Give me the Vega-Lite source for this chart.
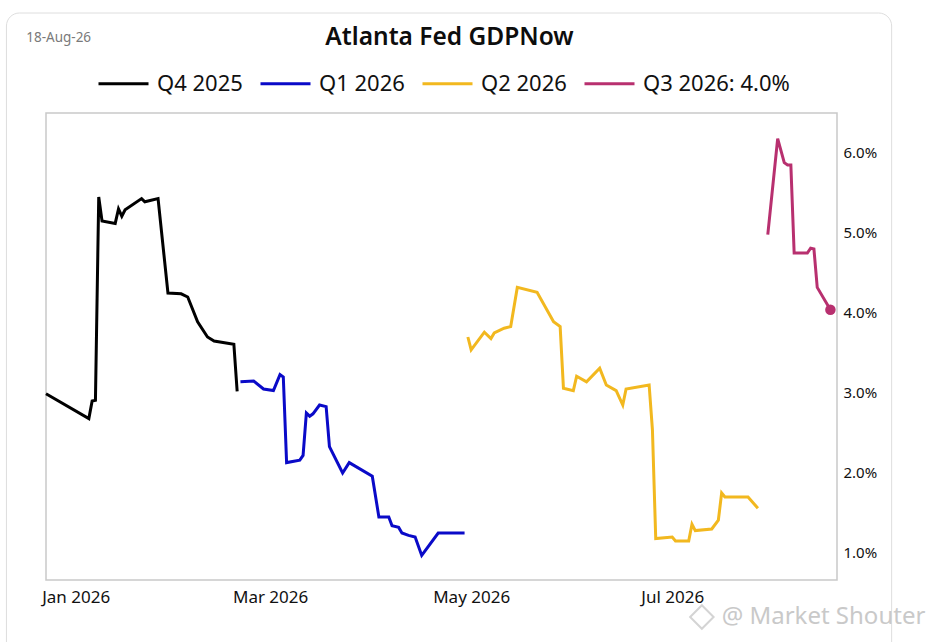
{
  "$schema": "https://vega.github.io/schema/vega-lite/v6.json",
  "width": 791,
  "height": 467,
  "autosize": "none",
  "padding": {"left": 46, "top": 113, "right": 94, "bottom": 62},
  "background": "white",
  "title": {
    "text": "Atlanta Fed GDPNow",
    "anchor": "middle",
    "frame": "group",
    "dx": 8,
    "offset": -38,
    "font": "Noto Sans",
    "fontSize": 24.5,
    "fontWeight": 600,
    "color": "#0d0d0d"
  },
  "datasets": {
    "series": [
      {"date": "2025-12-23", "gdp": 2.99, "quarter": "Q4 2025"},
      {"date": "2026-01-05", "gdp": 2.68, "quarter": "Q4 2025"},
      {"date": "2026-01-06", "gdp": 2.90, "quarter": "Q4 2025"},
      {"date": "2026-01-07", "gdp": 2.91, "quarter": "Q4 2025"},
      {"date": "2026-01-08", "gdp": 5.45, "quarter": "Q4 2025"},
      {"date": "2026-01-09", "gdp": 5.15, "quarter": "Q4 2025"},
      {"date": "2026-01-13", "gdp": 5.12, "quarter": "Q4 2025"},
      {"date": "2026-01-14", "gdp": 5.30, "quarter": "Q4 2025"},
      {"date": "2026-01-15", "gdp": 5.21, "quarter": "Q4 2025"},
      {"date": "2026-01-16", "gdp": 5.29, "quarter": "Q4 2025"},
      {"date": "2026-01-21", "gdp": 5.43, "quarter": "Q4 2025"},
      {"date": "2026-01-22", "gdp": 5.39, "quarter": "Q4 2025"},
      {"date": "2026-01-26", "gdp": 5.43, "quarter": "Q4 2025"},
      {"date": "2026-01-29", "gdp": 4.25, "quarter": "Q4 2025"},
      {"date": "2026-02-02", "gdp": 4.24, "quarter": "Q4 2025"},
      {"date": "2026-02-04", "gdp": 4.20, "quarter": "Q4 2025"},
      {"date": "2026-02-07", "gdp": 3.89, "quarter": "Q4 2025"},
      {"date": "2026-02-10", "gdp": 3.70, "quarter": "Q4 2025"},
      {"date": "2026-02-12", "gdp": 3.65, "quarter": "Q4 2025"},
      {"date": "2026-02-18", "gdp": 3.61, "quarter": "Q4 2025"},
      {"date": "2026-02-19", "gdp": 3.02, "quarter": "Q4 2025"},
      {"date": "2026-02-20", "gdp": 3.14, "quarter": "Q1 2026"},
      {"date": "2026-02-24", "gdp": 3.15, "quarter": "Q1 2026"},
      {"date": "2026-02-27", "gdp": 3.05, "quarter": "Q1 2026"},
      {"date": "2026-03-02", "gdp": 3.03, "quarter": "Q1 2026"},
      {"date": "2026-03-04", "gdp": 3.23, "quarter": "Q1 2026"},
      {"date": "2026-03-05", "gdp": 3.20, "quarter": "Q1 2026"},
      {"date": "2026-03-06", "gdp": 2.13, "quarter": "Q1 2026"},
      {"date": "2026-03-10", "gdp": 2.16, "quarter": "Q1 2026"},
      {"date": "2026-03-11", "gdp": 2.22, "quarter": "Q1 2026"},
      {"date": "2026-03-12", "gdp": 2.75, "quarter": "Q1 2026"},
      {"date": "2026-03-13", "gdp": 2.71, "quarter": "Q1 2026"},
      {"date": "2026-03-14", "gdp": 2.74, "quarter": "Q1 2026"},
      {"date": "2026-03-16", "gdp": 2.85, "quarter": "Q1 2026"},
      {"date": "2026-03-18", "gdp": 2.83, "quarter": "Q1 2026"},
      {"date": "2026-03-19", "gdp": 2.33, "quarter": "Q1 2026"},
      {"date": "2026-03-23", "gdp": 2.00, "quarter": "Q1 2026"},
      {"date": "2026-03-25", "gdp": 2.13, "quarter": "Q1 2026"},
      {"date": "2026-04-01", "gdp": 1.96, "quarter": "Q1 2026"},
      {"date": "2026-04-03", "gdp": 1.45, "quarter": "Q1 2026"},
      {"date": "2026-04-06", "gdp": 1.45, "quarter": "Q1 2026"},
      {"date": "2026-04-07", "gdp": 1.34, "quarter": "Q1 2026"},
      {"date": "2026-04-09", "gdp": 1.32, "quarter": "Q1 2026"},
      {"date": "2026-04-10", "gdp": 1.25, "quarter": "Q1 2026"},
      {"date": "2026-04-12", "gdp": 1.22, "quarter": "Q1 2026"},
      {"date": "2026-04-14", "gdp": 1.20, "quarter": "Q1 2026"},
      {"date": "2026-04-16", "gdp": 0.97, "quarter": "Q1 2026"},
      {"date": "2026-04-21", "gdp": 1.25, "quarter": "Q1 2026"},
      {"date": "2026-04-29", "gdp": 1.25, "quarter": "Q1 2026"},
      {"date": "2026-04-30", "gdp": 3.70, "quarter": "Q2 2026"},
      {"date": "2026-05-01", "gdp": 3.54, "quarter": "Q2 2026"},
      {"date": "2026-05-05", "gdp": 3.76, "quarter": "Q2 2026"},
      {"date": "2026-05-07", "gdp": 3.68, "quarter": "Q2 2026"},
      {"date": "2026-05-08", "gdp": 3.75, "quarter": "Q2 2026"},
      {"date": "2026-05-11", "gdp": 3.81, "quarter": "Q2 2026"},
      {"date": "2026-05-13", "gdp": 3.83, "quarter": "Q2 2026"},
      {"date": "2026-05-15", "gdp": 4.32, "quarter": "Q2 2026"},
      {"date": "2026-05-21", "gdp": 4.26, "quarter": "Q2 2026"},
      {"date": "2026-05-26", "gdp": 3.89, "quarter": "Q2 2026"},
      {"date": "2026-05-28", "gdp": 3.83, "quarter": "Q2 2026"},
      {"date": "2026-05-29", "gdp": 3.06, "quarter": "Q2 2026"},
      {"date": "2026-06-01", "gdp": 3.03, "quarter": "Q2 2026"},
      {"date": "2026-06-02", "gdp": 3.21, "quarter": "Q2 2026"},
      {"date": "2026-06-05", "gdp": 3.14, "quarter": "Q2 2026"},
      {"date": "2026-06-09", "gdp": 3.31, "quarter": "Q2 2026"},
      {"date": "2026-06-11", "gdp": 3.10, "quarter": "Q2 2026"},
      {"date": "2026-06-14", "gdp": 3.03, "quarter": "Q2 2026"},
      {"date": "2026-06-16", "gdp": 2.85, "quarter": "Q2 2026"},
      {"date": "2026-06-17", "gdp": 3.05, "quarter": "Q2 2026"},
      {"date": "2026-06-24", "gdp": 3.10, "quarter": "Q2 2026"},
      {"date": "2026-06-25", "gdp": 2.54, "quarter": "Q2 2026"},
      {"date": "2026-06-26", "gdp": 1.18, "quarter": "Q2 2026"},
      {"date": "2026-07-01", "gdp": 1.20, "quarter": "Q2 2026"},
      {"date": "2026-07-02", "gdp": 1.15, "quarter": "Q2 2026"},
      {"date": "2026-07-06", "gdp": 1.15, "quarter": "Q2 2026"},
      {"date": "2026-07-07", "gdp": 1.36, "quarter": "Q2 2026"},
      {"date": "2026-07-08", "gdp": 1.28, "quarter": "Q2 2026"},
      {"date": "2026-07-13", "gdp": 1.30, "quarter": "Q2 2026"},
      {"date": "2026-07-15", "gdp": 1.41, "quarter": "Q2 2026"},
      {"date": "2026-07-16", "gdp": 1.75, "quarter": "Q2 2026"},
      {"date": "2026-07-17", "gdp": 1.70, "quarter": "Q2 2026"},
      {"date": "2026-07-24", "gdp": 1.70, "quarter": "Q2 2026"},
      {"date": "2026-07-27", "gdp": 1.56, "quarter": "Q2 2026"},
      {"date": "2026-07-30", "gdp": 4.98, "quarter": "Q3 2026: 4.0%"},
      {"date": "2026-08-02", "gdp": 6.18, "quarter": "Q3 2026: 4.0%"},
      {"date": "2026-08-04", "gdp": 5.88, "quarter": "Q3 2026: 4.0%"},
      {"date": "2026-08-05", "gdp": 5.85, "quarter": "Q3 2026: 4.0%"},
      {"date": "2026-08-06", "gdp": 5.85, "quarter": "Q3 2026: 4.0%"},
      {"date": "2026-08-07", "gdp": 4.75, "quarter": "Q3 2026: 4.0%"},
      {"date": "2026-08-11", "gdp": 4.75, "quarter": "Q3 2026: 4.0%"},
      {"date": "2026-08-12", "gdp": 4.81, "quarter": "Q3 2026: 4.0%"},
      {"date": "2026-08-13", "gdp": 4.80, "quarter": "Q3 2026: 4.0%"},
      {"date": "2026-08-14", "gdp": 4.32, "quarter": "Q3 2026: 4.0%"},
      {"date": "2026-08-18", "gdp": 4.04, "quarter": "Q3 2026: 4.0%"}
    ]
  },
  "encoding": {
    "x": {
      "field": "date",
      "type": "temporal",
      "title": null,
      "scale": {
        "type": "utc",
        "domain": [
          {"year": 2025, "month": 12, "date": 23, "utc": true},
          {"year": 2026, "month": 8, "date": 20, "utc": true}
        ]
      },
      "axis": {
        "values": [
          {"year": 2026, "month": 1, "date": 1, "utc": true},
          {"year": 2026, "month": 3, "date": 1, "utc": true},
          {"year": 2026, "month": 5, "date": 1, "utc": true},
          {"year": 2026, "month": 7, "date": 1, "utc": true}
        ],
        "format": "%b %Y",
        "grid": false,
        "ticks": false,
        "domain": false,
        "labelFlush": false,
        "labelPadding": 9,
        "labelFont": "Noto Sans",
        "labelFontSize": 17,
        "labelColor": "#111111"
      }
    },
    "y": {
      "field": "gdp",
      "type": "quantitative",
      "title": null,
      "scale": {"domain": [0.6625, 6.5], "nice": false, "zero": false},
      "axis": {
        "orient": "right",
        "values": [1, 2, 3, 4, 5, 6],
        "labelExpr": "format(datum.value, '.1f') + '%'",
        "grid": false,
        "ticks": false,
        "domain": false,
        "labelPadding": 6,
        "labelOffset": -1,
        "labelFont": "Noto Sans",
        "labelFontSize": 15,
        "labelColor": "#111111"
      }
    }
  },
  "layer": [
    {
      "data": {"values": [{"date": "2025-12-11", "date2": "2026-09-05T14:00:00Z", "gdp": 7.75, "gdp2": -0.5}]},
      "mark": {"type": "rect", "fill": null, "stroke": "#dedede", "strokeWidth": 1, "cornerRadius": 13, "clip": false},
      "encoding": {
        "x2": {"field": "date2"},
        "y2": {"field": "gdp2"}
      }
    },
    {
      "data": {"name": "series"},
      "mark": {"type": "line", "strokeWidth": 3, "clip": false},
      "encoding": {
        "color": {
          "field": "quarter",
          "type": "nominal",
          "title": null,
          "scale": {
            "domain": ["Q4 2025", "Q1 2026", "Q2 2026", "Q3 2026: 4.0%"],
            "range": ["#000000", "#0a0ac8", "#f2b81f", "#b8306f"]
          },
          "legend": {
            "orient": "none",
            "legendX": 51,
            "legendY": -56,
            "direction": "horizontal",
            "columns": 4,
            "symbolType": "stroke",
            "symbolSize": 2500,
            "symbolStrokeWidth": 3,
            "labelFont": "Noto Sans",
            "labelFontSize": 22,
            "labelColor": "#111111",
            "labelOffset": 7,
            "labelLimit": 300,
            "columnPadding": 11
          }
        }
      }
    },
    {
      "data": {"values": [{"date": "2026-08-18", "gdp": 4.04}]},
      "mark": {"type": "point", "filled": true, "opacity": 1, "size": 110, "color": "#b8306f"}
    },
    {
      "data": {"values": [{"date": "2025-12-17", "gdp": 7.44, "label": "18-Aug-26"}]},
      "mark": {"type": "text", "align": "left", "baseline": "middle", "font": "Noto Sans", "fontSize": 13.5, "color": "#7a7a7a"},
      "encoding": {"text": {"field": "label"}}
    },
    {
      "data": {"values": [{"date": "2026-07-16", "gdp": 0.2, "label": "@ Market Shouter"}]},
      "mark": {"type": "text", "align": "left", "baseline": "middle", "font": "Noto Sans", "fontSize": 24, "color": "#c9c9c9"},
      "encoding": {"text": {"field": "label"}}
    },
    {
      "data": {"values": [{"date": "2026-07-10", "gdp": 0.2}]},
      "mark": {"type": "point", "shape": "diamond", "filled": false, "size": 550, "strokeWidth": 2, "color": "#d4d4d4", "opacity": 1}
    }
  ],
  "config": {"view": {"stroke": "#c9c9c9", "strokeWidth": 1.5}}
}
